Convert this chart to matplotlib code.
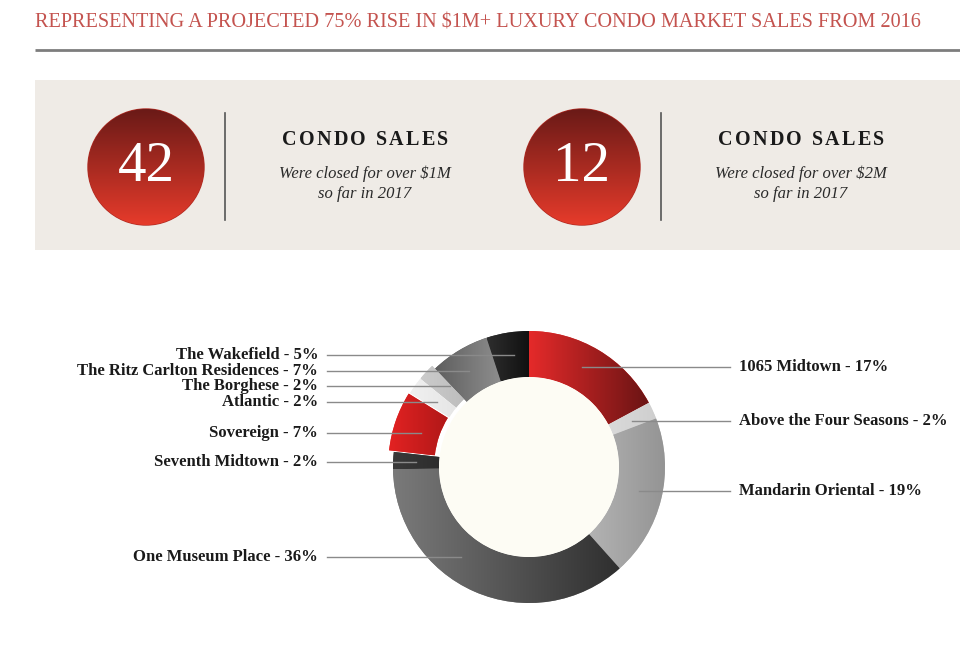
import matplotlib
matplotlib.use("Agg")
import matplotlib.pyplot as plt
import numpy as np
from matplotlib.colors import LinearSegmentedColormap
from matplotlib.patches import Circle, Rectangle

plt.rcParams["font.family"] = "Liberation Serif"

# --- data -------------------------------------------------------------
title = "REPRESENTING A PROJECTED 75% RISE IN $1M+ LUXURY CONDO MARKET SALES FROM 2016"
stat_values = ["42", "12"]
stat_heads = ["CONDO SALES", "CONDO SALES"]
stat_notes = ["Were closed for over $1M\nso far in 2017",
              "Were closed for over $2M\nso far in 2017"]

buildings = ["1065 Midtown", "Above the Four Seasons", "Mandarin Oriental",
             "One Museum Place", "Seventh Midtown", "Sovereign", "Atlantic",
             "The Borghese", "The Ritz Carlton Residences", "The Wakefield"]
shares = [17, 2, 19, 36, 2, 7, 2, 2, 7, 5]

# --- styling / layout (pixel coords, y down) ---------------------------
W, H = 960, 655
TITLE_RED = "#c4534f"
BAND = "#efebe6"
HOLE = "#fdfcf4"
LINE_GREY = "#8a8a8a"

# gradient (start, end) colours for each wedge
wedge_cols = [("#e52a2a", "#6a1414"), ("#dadada", "#cfcfcf"),
              ("#b3b3b3", "#949494"), ("#7a7a7a", "#2f2f2f"),
              ("#3a3a3a", "#2c2c2c"), ("#e32222", "#b01818"),
              ("#f0f0f0", "#e6e6e6"), ("#cbcbcb", "#bdbdbd"),
              ("#5e5e5e", "#8e8e8e"), ("#2e2e2e", "#101010")]
explode = [0, 0, 0, 0, 0, 5, 4, 4, 0, 0]
label_y = [367, 421, 491, 557, 462, 433, 402, 386, 371, 355]
label_side = [1, 1, 1, -1, -1, -1, -1, -1, -1, -1]

cx, cy, R, RING = 529, 467, 136, 46


def gradient_fill(ax, patch, c0, c1, vertical=False):
    cmap = LinearSegmentedColormap.from_list("g", [c0, c1])
    grad = np.linspace(0, 1, 256)
    img = grad.reshape(-1, 1) if vertical else grad.reshape(1, -1)
    bb = patch.get_path().transformed(patch.get_patch_transform()).get_extents()
    im = ax.imshow(img, cmap=cmap, extent=(bb.x0, bb.x1, bb.y1, bb.y0),
                   origin="upper", aspect="auto", interpolation="bicubic",
                   zorder=patch.get_zorder() + 0.1)
    im.set_clip_path(patch)


def spaced_text(ax, x, y, s, gap, **kw):
    # letter-spaced, centred text: place each glyph by hand
    r = ax.figure.canvas.get_renderer()
    widths = []
    for ch in s:
        t = ax.text(0, 0, ch if ch != " " else "n", **kw)
        widths.append(t.get_window_extent(r).width * (0.5 if ch == " " else 1))
        t.remove()
    total = sum(widths) + gap * (len(s) - 1)
    px = x - total / 2
    for ch, w in zip(s, widths):
        ax.text(px, y, ch, ha="left", va="center", **kw)
        px += w + gap


fig = plt.figure(figsize=(W / 100, H / 100), dpi=100)
ax = fig.add_axes([0, 0, 1, 1])
ax.set_xlim(0, W)
ax.set_ylim(H, 0)

# header
ax.text(35, 23, title, color=TITLE_RED, fontsize=14.55, va="center", ha="left")
ax.plot([35, W], [50, 50], color="#7d7d7d", lw=2, solid_capstyle="butt")
ax.add_patch(Rectangle((35, 80), W - 35, 170, color=BAND, zorder=0, lw=0))

for i, (val, head, note) in enumerate(zip(stat_values, stat_heads, stat_notes)):
    ox = i * 436
    circ = Circle((146 + ox, 167), 58, color="#b02a22", zorder=2)
    ax.add_patch(circ)
    gradient_fill(ax, circ, "#6a1a17", "#e63b2b", vertical=True)
    ax.text(146 + ox, 167, val, color="white", fontsize=41, ha="center",
            va="center", zorder=4)
    ax.plot([225 + ox, 225 + ox], [113, 220], color="#555555", lw=1.2)
    spaced_text(ax, 365 + ox, 140, head, 2.2, fontsize=14.5,
                fontweight="bold", color="#1a1a1a")
    ax.text(365 + ox, 184, note, fontsize=12, style="italic", ha="center",
            va="center", color="#2a2a2a", linespacing=1.3)

# donut (axis is y-down, so counterclock=True reads clockwise on screen)
wedges, _ = ax.pie(shares, center=(cx, cy), radius=R, startangle=-90,
                   counterclock=True, explode=explode,
                   colors=[c[0] for c in wedge_cols],
                   wedgeprops=dict(width=RING, lw=0))
for w, (c0, c1) in zip(wedges, wedge_cols):
    w.set_zorder(2)
    gradient_fill(ax, w, c0, c1)
ax.add_patch(Circle((cx, cy), R - RING, color=HOLE, zorder=3, lw=0))

rm = R - RING / 2
for name, pct, y, side in zip(buildings, shares, label_y, label_side):
    xe = cx + side * np.sqrt(max(rm ** 2 - (y - cy) ** 2, 0))
    xl = 730 if side > 0 else 327
    ax.plot([xe, xl], [y, y], color=LINE_GREY, lw=1, zorder=5)
    ax.text(xl + side * 9, y, f"{name} - {pct}%", fontsize=12,
            fontweight="bold", ha="left" if side > 0 else "right",
            va="center", color="#1a1a1a")

ax.set_xlim(0, W)
ax.set_ylim(H, 0)
ax.set_aspect("auto")
ax.axis("off")
fig.savefig("out.png", dpi=100, facecolor="white")
